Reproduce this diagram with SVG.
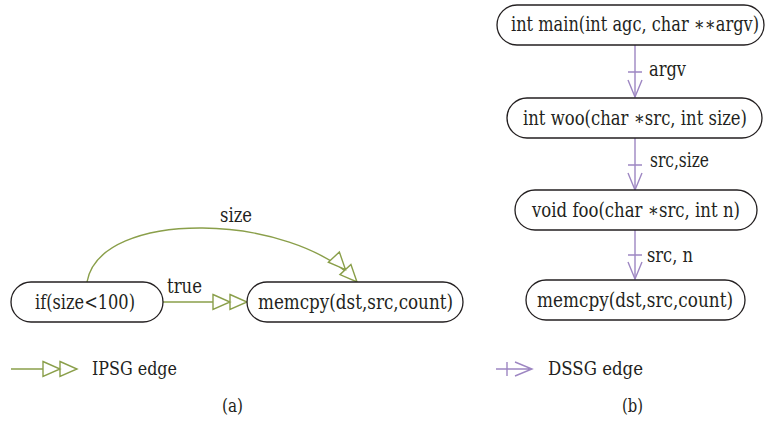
<svg xmlns="http://www.w3.org/2000/svg" width="766" height="422" viewBox="0 0 766 422">
<style>
.node{fill:#fff;stroke:#231f20;stroke-width:1.3}
text{fill:#231f20;font-family:"DejaVu Serif","Liberation Serif",serif}
.t{font-size:19.5px;text-anchor:middle}
.l{font-size:19.5px}
.lg{font-size:18.5px}
.ip{fill:none;stroke:#8a9f4a;stroke-width:1.4}
.ds{fill:none;stroke:#9d86c2;stroke-width:1.4}
</style>
<defs>
<marker id="dtri" markerUnits="userSpaceOnUse" markerWidth="40" markerHeight="20" viewBox="-36 -10 40 20" refX="0" refY="0" orient="auto" overflow="visible">
<path d="M-34,-7.5 L-17,0 L-34,7.5 Z M-17,-7.5 L0,0 L-17,7.5 Z" fill="#fff" stroke="#8a9f4a" stroke-width="1.4" stroke-linejoin="miter"/>
</marker>
</defs>

<g id="connectors">
<path id="e-true" class="ip" d="M163,302 L247,302" marker-end="url(#dtri)"/>
<path id="e-size" class="ip" d="M87,282 C100,208 292,212 357,282" marker-end="url(#dtri)"/>
<text class="l" x="220" y="222" textLength="32" lengthAdjust="spacingAndGlyphs">size</text>
<text class="l" x="167" y="293" textLength="35" lengthAdjust="spacingAndGlyphs">true</text>

<path id="e-argv" class="ds" d="M635,45 L635,97"/>
<path class="ds" d="M628,80 L635,97 L642,80 M628,72 L642,72"/>
<text class="l" x="649" y="76" textLength="37" lengthAdjust="spacingAndGlyphs">argv</text>

<path id="e-srcsize" class="ds" d="M635,138 L635,190"/>
<path class="ds" d="M628,173 L635,190 L642,173 M628,165 L642,165"/>
<text class="l" x="650" y="167" textLength="59" lengthAdjust="spacingAndGlyphs">src,size</text>

<path id="e-srcn" class="ds" d="M635,230 L635,279"/>
<path class="ds" d="M628,262 L635,279 L642,262 M628,255 L642,255"/>
<text class="l" x="647" y="262" textLength="46" lengthAdjust="spacingAndGlyphs">src, n</text>
</g>

<g id="node-if">
<rect class="node" x="11" y="282" width="152" height="40" rx="20"/>
<text class="t" x="85" y="309" textLength="100" lengthAdjust="spacingAndGlyphs">if(size&lt;100)</text>
</g>
<g id="node-memcpy-a">
<rect class="node" x="247" y="282" width="216" height="40" rx="20"/>
<text class="t" x="355.5" y="309" textLength="195" lengthAdjust="spacingAndGlyphs">memcpy(dst,src,count)</text>
</g>

<g id="node-main">
<rect class="node" x="497" y="5" width="267" height="40" rx="20"/>
<text class="t" x="635" y="31" textLength="248" lengthAdjust="spacingAndGlyphs">int main(int agc, char ∗∗argv)</text>
</g>
<g id="node-woo">
<rect class="node" x="507" y="98" width="255" height="40" rx="20"/>
<text class="t" x="635" y="125" textLength="224" lengthAdjust="spacingAndGlyphs">int woo(char ∗src, int size)</text>
</g>
<g id="node-foo">
<rect class="node" x="515" y="190" width="242" height="40" rx="20"/>
<text class="t" x="636" y="217" textLength="208" lengthAdjust="spacingAndGlyphs">void foo(char ∗src, int n)</text>
</g>
<g id="node-memcpy-b">
<rect class="node" x="526" y="280" width="219" height="40" rx="20"/>
<text class="t" x="635" y="307" textLength="196" lengthAdjust="spacingAndGlyphs">memcpy(dst,src,count)</text>
</g>

<g id="legend">
<path class="ip" d="M11,369 L77,369" marker-end="url(#dtri)"/>
<text class="lg" x="92" y="375" textLength="85" lengthAdjust="spacingAndGlyphs">IPSG edge</text>
<path class="ds" d="M496,369 L532,369 M515,362 L532,369 L515,376 M507,362 L507,376"/>
<text class="lg" x="548" y="375" textLength="95" lengthAdjust="spacingAndGlyphs">DSSG edge</text>
<text class="lg" x="222" y="412" textLength="21" lengthAdjust="spacingAndGlyphs">(a)</text>
<text class="lg" x="622" y="412" textLength="21" lengthAdjust="spacingAndGlyphs">(b)</text>
</g>
</svg>
